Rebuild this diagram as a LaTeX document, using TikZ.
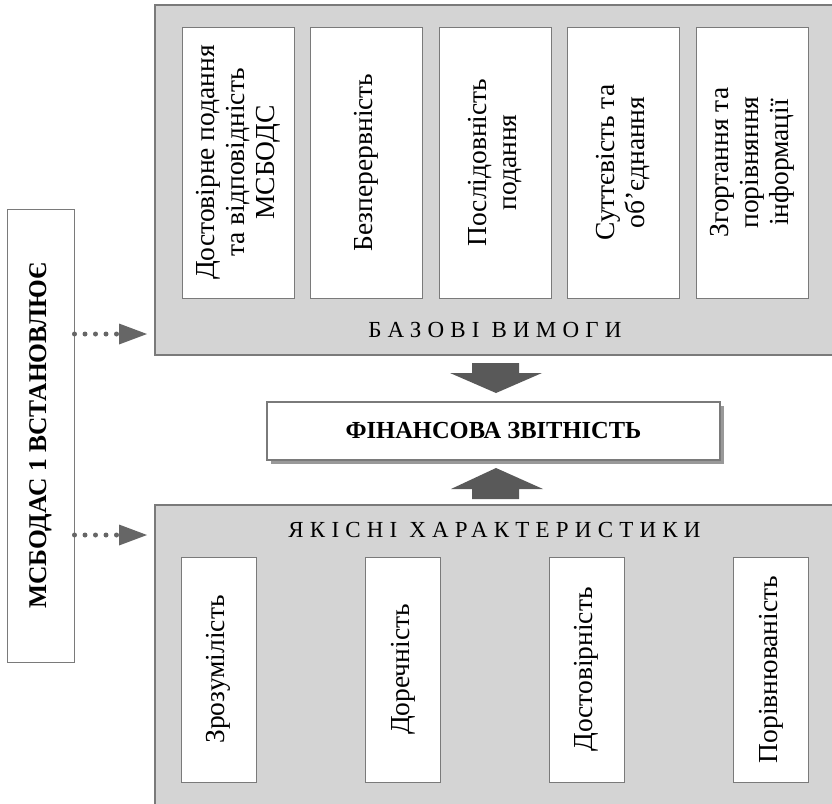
\documentclass[tikz,border=0pt]{standalone}
\usepackage{fontspec}
\setmainfont{Liberation Serif}
\newfontfamily\trackedfont[LetterSpace=27]{Liberation Serif}
\usetikzlibrary{arrows.meta,shadows}

\definecolor{panelgray}{HTML}{D4D4D4}
\definecolor{panelline}{HTML}{7A7A7A}
\definecolor{arrowgray}{HTML}{595959}
\definecolor{dotgray}{HTML}{666666}

\begin{document}
\begin{tikzpicture}[x=1pt,y=-1pt,
  panel/.style={draw=panelline, fill=panelgray, line width=1.3pt},
  card/.style={draw=panelline, fill=white, line width=1pt},
  fatarrow/.style={fill=arrowgray, draw=none},
  dotline/.style={draw=dotgray, line width=5pt, line cap=round,
    dash pattern=on 0pt off 10.5pt,
    -{Triangle[length=28pt,width=21pt,line width=0pt]}},
  vtext/.style={rotate=90, align=center, font=\fontsize{27.5}{30}\selectfont},
  heading/.style={font=\trackedfont\fontsize{23}{27}\selectfont},
]
\useasboundingbox (0,0) rectangle (832,803);

% grey panels
\path[panel] (155,5) rectangle (845,355);
\path[panel] (155,505) rectangle (845,815);

% requirement cards in the upper panel
\node[card, minimum width=112pt, minimum height=271pt] (b1) at (238,162.5) {};
\node[card, minimum width=112pt, minimum height=271pt] (b2) at (366,162.5) {};
\node[card, minimum width=112pt, minimum height=271pt] (b3) at (495,162.5) {};
\node[card, minimum width=112pt, minimum height=271pt] (b4) at (623,162.5) {};
\node[card, minimum width=112pt, minimum height=271pt] (b5) at (752,162.5) {};

\node[vtext] (t1) at (b1) {Достовірне подання\\та відповідність\\МСБОДС};
\node[vtext] (t2) at (b2) {Безперервність};
\node[vtext] (t3) at (b3) {Послідовність\\подання};
\node[vtext] (t4) at (b4) {Суттєвість та\\об’єднання};
\node[vtext] (t5) at (b5) {Згортання та\\порівняння\\інформації};

\node[heading] (basic) at (495,330) {БАЗОВІ ВИМОГИ};

% quality cards in the lower panel
\node[card, minimum width=75pt, minimum height=225pt] (q1) at (218.5,669.5) {};
\node[card, minimum width=75pt, minimum height=225pt] (q2) at (403,669.5) {};
\node[card, minimum width=75pt, minimum height=225pt] (q3) at (586.5,669.5) {};
\node[card, minimum width=75pt, minimum height=225pt] (q4) at (771,669.5) {};

\node[vtext] (u1) at (q1) {Зрозумілість};
\node[vtext] (u2) at (q2) {Доречність};
\node[vtext] (u3) at (q3) {Достовірність};
\node[vtext] (u4) at (q4) {Порівнюваність};

\node[heading] (quality) at (494.5,530) {ЯКІСНІ ХАРАКТЕРИСТИКИ};

% central result box
\node[card, line width=1.2pt, minimum width=453pt, minimum height=58pt,
  drop shadow={shadow xshift=3.5pt, shadow yshift=-3.5pt, opacity=0.4, fill=black},
  font=\bfseries\fontsize{24.5}{28}\selectfont] (fin) at (493.5,431) {ФІНАНСОВА ЗВІТНІСТЬ};

% block arrows
\path[fatarrow] (472,363) -- (519,363) -- (519,373) -- (542,373) -- (496,393)
  -- (450,373) -- (472,373) -- cycle;
\path[fatarrow] (472,499) -- (519,499) -- (519,489) -- (543,489) -- (496,468)
  -- (451,489) -- (472,489) -- cycle;

% standard box on the left
\node[card, minimum width=67pt, minimum height=453pt] (std) at (40.5,435.5) {};
\node[rotate=90, font=\bfseries\fontsize{25.5}{30}\selectfont] (stdtext) at (std) {МСБОДАС 1 ВСТАНОВЛЮЄ};

\coordinate (inTop) at (147,334);
\coordinate (inBot) at (147,535);
\draw[dotline] (std.east |- inTop) -- (inTop);
\draw[dotline] (std.east |- inBot) -- (inBot);
\end{tikzpicture}
\end{document}
